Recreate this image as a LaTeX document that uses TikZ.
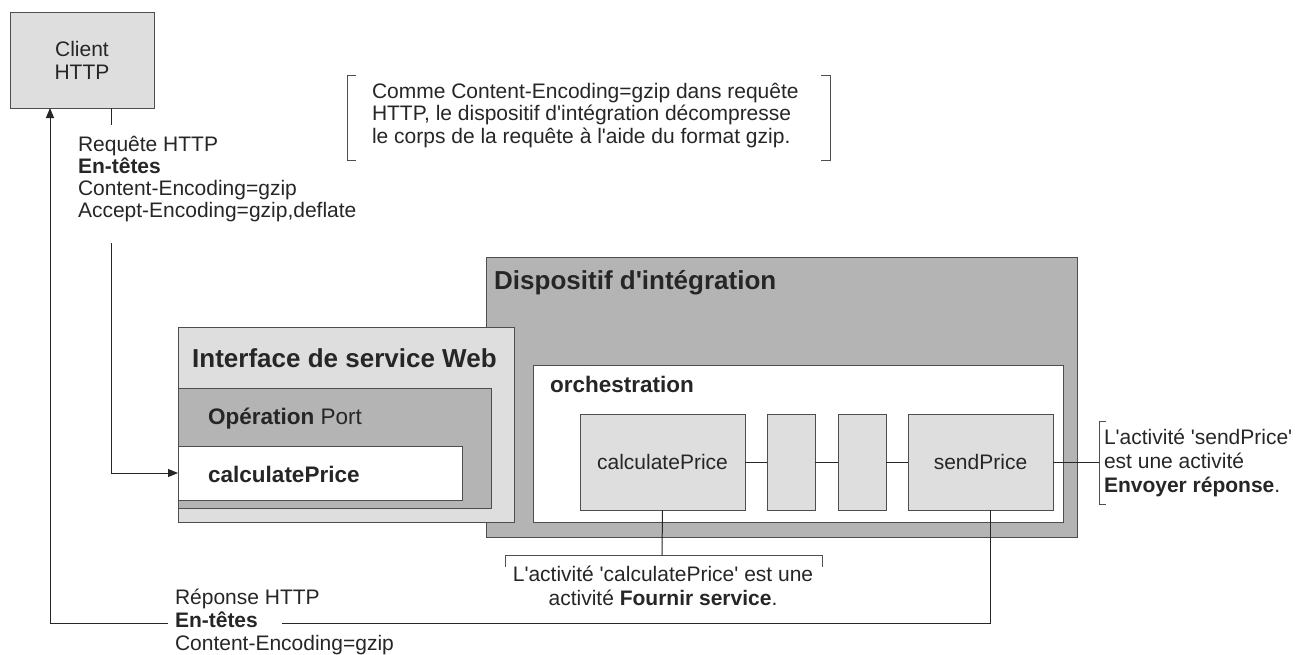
\documentclass[tikz,border=0pt]{standalone}
\usepackage{fontspec}
\setmainfont{Liberation Sans}[Ligatures=TeXOff]
\usetikzlibrary{arrows.meta}
\definecolor{darkfill}{HTML}{B4B4B4}
\definecolor{lightfill}{HTML}{DEDEDE}
\definecolor{edgecol}{HTML}{4E4E4E}
\definecolor{ink}{HTML}{262626}
\begin{document}
\begin{tikzpicture}[x=1pt,y=-1pt,
  box/.style={draw=edgecol,line width=0.9pt,inner sep=0pt,outer sep=0pt,anchor=north west},
  txt/.style={font=\fontsize{21}{22.5}\selectfont,text=ink,inner sep=0pt,outer sep=0pt},
  ttl/.style={font=\fontsize{26}{28}\selectfont\bfseries,text=ink,inner sep=0pt},
  sub/.style={font=\fontsize{22.5}{24}\selectfont\bfseries,text=ink,inner sep=0pt},
  conn/.style={draw=ink,line width=1pt},
  brk/.style={draw=edgecol,line width=1pt},
  tip/.style={-{Triangle[length=10pt,width=8pt]}}]
\useasboundingbox (0,0) rectangle (1298,654);

% containers
\node[box,fill=darkfill,minimum width=591,minimum height=280] (disp) at (486,257) {};
\node[ttl,anchor=base west] (dispT) at (494,289) {Dispositif d'intégration};
\node[box,fill=lightfill,minimum width=336,minimum height=195] (iface) at (178,327) {};
\node[ttl,anchor=base west] (ifaceT) at (192,367) {Interface de service Web};
\node[box,fill=darkfill,minimum width=313,minimum height=120] (oper) at (178,388) {};
\node[sub,anchor=base west] (operT) at (208,424) {Opération \mdseries Port};
\node[box,fill=white,minimum width=284,minimum height=54] (port) at (178,446) {};
\node[sub,anchor=base west] (portT) at (208,482) {calculatePrice};
\node[box,fill=white,minimum width=530,minimum height=157] (orch) at (533,365) {};
\node[sub,anchor=base west] (orchT) at (550,392) {orchestration};

% activities
\node[box,fill=lightfill,minimum width=165,minimum height=96,txt,font=\fontsize{21}{22.5}\selectfont] (calc) at (580,414) {calculatePrice};
\node[box,fill=lightfill,minimum width=48,minimum height=96] (act2) at (767,414) {};
\node[box,fill=lightfill,minimum width=48,minimum height=96] (act3) at (838,414) {};
\node[box,fill=lightfill,minimum width=145,minimum height=96,txt,font=\fontsize{21}{22.5}\selectfont] (send) at (908,414) {sendPrice};

% client
\node[box,fill=lightfill,minimum width=144,minimum height=96,txt,align=center,font=\fontsize{21}{23}\selectfont] (client) at (10,12) {Client\\HTTP};

% texts
\node[txt,anchor=north west,align=left,font=\fontsize{21}{22}\selectfont] (req) at (78,136)
  {Requête HTTP\\\textbf{En-têtes}\\Content-Encoding=gzip\\Accept-Encoding=gzip,deflate};
\node[txt,anchor=north west,align=left,font=\fontsize{21}{23}\selectfont] (resp) at (175,589)
  {Réponse HTTP\\\textbf{En-têtes}\\Content-Encoding=gzip};
\node[txt,anchor=north west,align=left,font=\fontsize{21}{22.5}\selectfont] (note1) at (372,83)
  {Comme Content-Encoding=gzip dans requête\\HTTP, le dispositif d'intégration décompresse\\le corps de la requête à l'aide du format gzip.};
\node[txt,anchor=north,align=center,font=\fontsize{21}{24}\selectfont] (note2) at (663,566)
  {L'activité 'calculatePrice' est une\\activité \textbf{Fournir service}.};
\node[txt,anchor=north west,align=left,font=\fontsize{21}{24}\selectfont] (note3) at (1104,429)
  {L'activité 'sendPrice'\\est une activité\\\textbf{Envoyer réponse}.};

% brackets
\draw[brk] (356,75) -- (347,75) -- (347,160) -- (356,160);
\draw[brk] (821,75) -- (830,75) -- (830,160) -- (821,160);
\draw[brk] (505,567) -- (505,555) -- (822,555) -- (822,567);
\draw[brk] (1106,421) -- (1099,421) -- (1099,504) -- (1106,504);

% connector coordinates
\coordinate (reqtop) at (111,125);
\coordinate (reqbot) at (111,243);
\coordinate (n2) at (662,555);
\coordinate (n3) at (1099,462);
\coordinate (sx) at (990,0);
\coordinate (resR) at (282,623);
\coordinate (resL) at (168,623);
\coordinate (rx) at (50,0);

% connectors
\draw[conn] (client.south -| reqtop) -- (reqtop);
\draw[conn,tip] (reqbot) |- (port.west);
\draw[conn] (calc.east) -- (act2.west);
\draw[conn] (act2.east) -- (act3.west);
\draw[conn] (act3.east) -- (send.west);
\draw[conn] (send.east) -- (n3);
\draw[conn] (calc.south) -- (n2);
\draw[conn] (send.south -| sx) |- (resR);
\draw[conn,tip] (resL) -| (client.south -| rx);
\end{tikzpicture}
\end{document}
